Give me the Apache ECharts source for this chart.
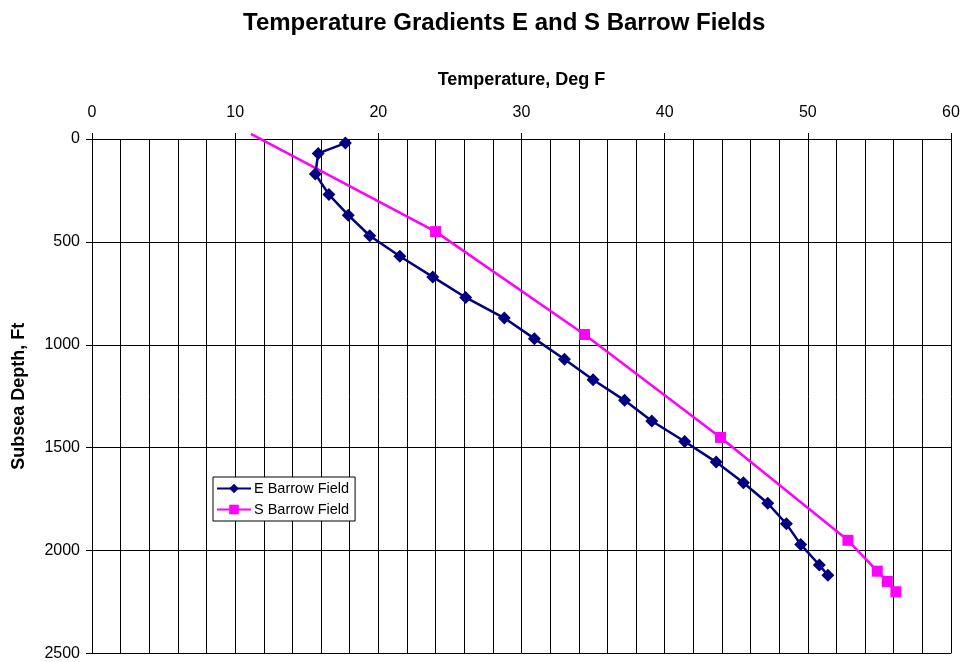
<!DOCTYPE html>
<html>
<head>
<meta charset="utf-8">
<title>Temperature Gradients E and S Barrow Fields</title>
<script src="https://cdn.jsdelivr.net/npm/echarts@6/dist/echarts.min.js"></script>
<style>
  html, body { margin: 0; padding: 0; background: #fff; }
  #chart { width: 963px; height: 662px; }
</style>
</head>
<body>
<div id="chart"></div>
<script>
// Temperature (deg F) vs subsea depth (ft) for each field
const eDepth = [20, 70, 170, 270, 370, 470, 570, 670, 770, 870, 970, 1070, 1170, 1270, 1370, 1470, 1570, 1670, 1770, 1870, 1970, 2070, 2120];
const eTemp  = [17.7, 15.8, 15.6, 16.55, 17.9, 19.4, 21.5, 23.8, 26.1, 28.8, 30.9, 33.0, 35.0, 37.2, 39.1, 41.4, 43.6, 45.5, 47.2, 48.5, 49.5, 50.8, 51.4];

const sDepth = [-25, 450, 950, 1450, 1950, 2100, 2150, 2200];
const sTemp  = [11.1, 24.0, 34.4, 43.9, 52.8, 54.85, 55.55, 56.15];

const tempTicks = [0, 10, 20, 30, 40, 50, 60];
const depthTicks = [0, 500, 1000, 1500, 2000, 2500];

const seriesNames = ['E Barrow Field', 'S Barrow Field'];

const ePoints = eTemp.map((t, i) => [t, eDepth[i]]);
// The shallowest S point sits above the surface line, drawn without a marker
const sPoints = sTemp.map((t, i) => {
  const p = [t, sDepth[i]];
  return sDepth[i] < 0 ? { value: p, symbol: 'none' } : p;
});

const font = 'Arial, "Liberation Sans", sans-serif';
const chart = echarts.init(document.getElementById('chart'));

chart.setOption({
  backgroundColor: '#fff',
  animation: false,
  title: {
    text: 'Temperature Gradients E and S Barrow Fields',
    left: 243,
    top: 11,
    padding: 0,
    textStyle: { fontFamily: font, fontSize: 24, fontWeight: 'bold', color: '#000' }
  },
  legend: {
    data: seriesNames,
    orient: 'vertical',
    left: 213,
    top: 477,
    padding: [4, 6, 4, 3],
    itemGap: 6,
    itemWidth: 34,
    itemHeight: 12,
    backgroundColor: '#fff',
    borderColor: '#000',
    borderWidth: 1,
    borderRadius: 0,
    textStyle: { fontFamily: font, fontSize: 14.5, color: '#000', padding: [0, 0, 0, -2] }
  },
  grid: { left: 92, right: 12, top: 139, bottom: 8.5 },
  xAxis: {
    type: 'value',
    position: 'top',
    min: tempTicks[0],
    max: tempTicks[tempTicks.length - 1],
    interval: 10,
    name: 'Temperature, Deg F',
    nameLocation: 'middle',
    nameGap: 50,
    nameTextStyle: { fontFamily: font, fontSize: 18, fontWeight: 'bold', color: '#000' },
    axisLine: { show: true, lineStyle: { color: '#000', width: 1 } },
    axisTick: { show: true, inside: false, length: 6, lineStyle: { color: '#000' } },
    axisLabel: { fontFamily: font, fontSize: 16, color: '#000', margin: 18, formatter: v => String(v) },
    splitLine: { show: true, lineStyle: { color: '#000', width: 1 } },
    minorTick: { show: false, splitNumber: 5 },
    minorSplitLine: { show: true, lineStyle: { color: '#000', width: 1 } }
  },
  yAxis: {
    type: 'value',
    inverse: true,
    min: depthTicks[0],
    max: depthTicks[depthTicks.length - 1],
    interval: 500,
    name: 'Subsea Depth, Ft',
    nameLocation: 'middle',
    nameGap: 64,
    nameRotate: 90,
    nameTextStyle: { fontFamily: font, fontSize: 18, fontWeight: 'bold', color: '#000' },
    axisLine: { show: true, lineStyle: { color: '#000', width: 1 } },
    axisTick: { show: true, inside: false, length: 6, lineStyle: { color: '#000' } },
    axisLabel: { fontFamily: font, fontSize: 16, color: '#000', margin: 12, formatter: v => String(v) },
    splitLine: { show: true, lineStyle: { color: '#000', width: 1 } }
  },
  series: [
    {
      name: seriesNames[0],
      type: 'line',
      data: ePoints,
      symbol: 'diamond',
      symbolSize: 13,
      clip: false,
      itemStyle: { color: '#000080' },
      lineStyle: { color: '#000080', width: 2.5 },
      z: 3
    },
    {
      name: seriesNames[1],
      type: 'line',
      data: sPoints,
      symbol: 'rect',
      symbolSize: 11,
      clip: false,
      itemStyle: { color: '#FF00FF' },
      lineStyle: { color: '#FF00FF', width: 2.5 },
      z: 2
    }
  ]
});
</script>
</body>
</html>
